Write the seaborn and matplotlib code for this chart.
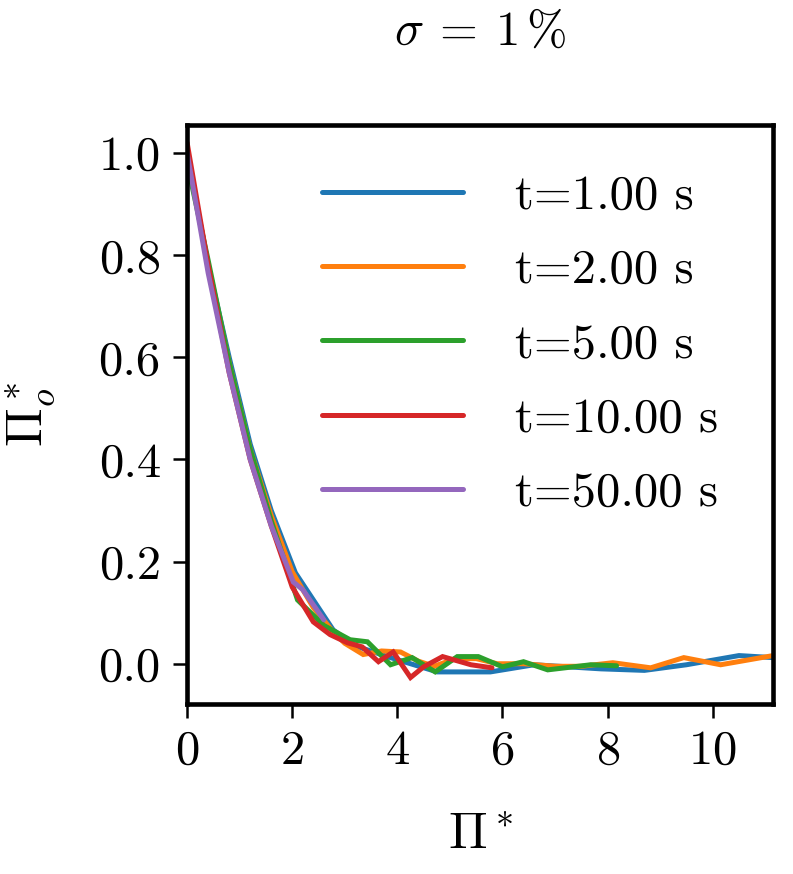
import numpy as np
import pandas as pd
import matplotlib
matplotlib.use("Agg")
import matplotlib.pyplot as plt
import seaborn as sns

labels = ["t=1.00 s", "t=2.00 s", "t=5.00 s", "t=10.00 s", "t=50.00 s"]

x_t1 = [0.0, 0.4, 0.8, 1.2, 1.6, 2.06, 2.78, 3.2, 3.87, 4.76, 5.77, 6.6, 7.87, 8.7, 9.5, 10.5, 11.15]
y_t1 = [1.0, 0.78, 0.60, 0.43, 0.30, 0.178, 0.066, 0.035, 0.012, -0.016, -0.016, -0.002, -0.010, -0.013, -0.002, 0.016, 0.012]

x_t2 = [0.0, 0.4, 0.8, 1.2, 1.6, 2.0, 2.4, 2.8, 3.0, 3.35, 3.7, 4.06, 4.4, 4.7, 5.1, 5.5, 5.9, 6.4, 7.0, 7.5, 8.1, 8.82, 9.45, 10.15, 11.15]
y_t2 = [1.0, 0.78, 0.59, 0.42, 0.29, 0.18, 0.11, 0.06, 0.04, 0.018, 0.025, 0.023, 0.005, -0.005, 0.010, 0.010, 0.000, 0.000, -0.005, -0.005, 0.002, -0.008, 0.012, -0.002, 0.016]

x_t5 = [0.0, 0.4, 0.8, 1.2, 1.6, 2.1, 2.6, 3.1, 3.43, 3.87, 4.28, 4.72, 5.14, 5.54, 6.0, 6.4, 6.86, 7.68, 8.17]
y_t5 = [0.98, 0.79, 0.59, 0.42, 0.28, 0.125, 0.075, 0.047, 0.043, -0.002, 0.012, -0.016, 0.014, 0.014, -0.006, 0.004, -0.012, -0.002, -0.004]

x_t10 = [0.0, 0.4, 0.8, 1.2, 1.6, 2.0, 2.4, 2.72, 3.05, 3.33, 3.64, 3.92, 4.25, 4.5, 4.86, 5.4, 5.8]
y_t10 = [1.02, 0.78, 0.57, 0.40, 0.27, 0.15, 0.082, 0.057, 0.041, 0.033, 0.004, 0.023, -0.027, -0.006, 0.014, -0.002, -0.008]

x_t50 = [0.0, 0.4, 0.8, 1.2, 1.6, 2.02, 2.2, 2.6]
y_t50 = [1.0, 0.765, 0.57, 0.40, 0.27, 0.16, 0.145, 0.086]

series = [(x_t1, y_t1), (x_t2, y_t2), (x_t5, y_t5), (x_t10, y_t10), (x_t50, y_t50)]
frames = []
for lab, (xs, ys) in zip(labels, series):
    frames.append(pd.DataFrame({"x": xs, "y": ys, "t": lab}))
df = pd.concat(frames, ignore_index=True)

sns.set_style("ticks")
plt.rcParams["font.family"] = "serif"
plt.rcParams["font.serif"] = ["cmr10"]
plt.rcParams["mathtext.fontset"] = "cm"
plt.rcParams["axes.formatter.use_mathtext"] = True
plt.rcParams["axes.unicode_minus"] = False
for k in ["text.color", "axes.labelcolor", "xtick.color", "ytick.color", "axes.edgecolor"]:
    plt.rcParams[k] = "black"

fig = plt.figure(figsize=(7.93, 8.74), dpi=100)
ax = fig.add_axes([0.236, 0.195, 0.739, 0.662])

LW = 3.6
sns.lineplot(data=df, x="x", y="y", hue="t", hue_order=labels,
             palette=sns.color_palette("tab10", 5), estimator=None, sort=False,
             linewidth=LW, ax=ax)
for ln in ax.lines:
    ln.set_linewidth(LW)
    ln.set_solid_joinstyle("miter")

ax.set_xlim(0, 11.15)
ax.set_ylim(-0.078, 1.055)
ax.set_xticks([0, 2, 4, 6, 8, 10])
ax.set_yticks([0.0, 0.2, 0.4, 0.6, 0.8, 1.0])
ax.set_yticklabels(["0.0", "0.2", "0.4", "0.6", "0.8", "1.0"])
ax.tick_params(labelsize=35, length=10, width=1.8, pad=9)
for s in ax.spines.values():
    s.set_linewidth(3.3)
    s.set_visible(True)

ax.set_xlabel(r"$\Pi^*$", fontsize=37, labelpad=28)
ax.set_ylabel(r"$\Pi_o^*$", fontsize=37, labelpad=30)
ax.set_title(r"$\sigma\:=\:1\,\%$", fontsize=35, pad=58)

leg = ax.legend(frameon=False, fontsize=35, handlelength=2.9, handletextpad=1.05,
                labelspacing=0.62, loc="upper right", bbox_to_anchor=(0.955, 0.965),
                borderaxespad=0.2)
for h in leg.get_lines():
    h.set_linewidth(LW)

fig.savefig("out.png", dpi=100)
